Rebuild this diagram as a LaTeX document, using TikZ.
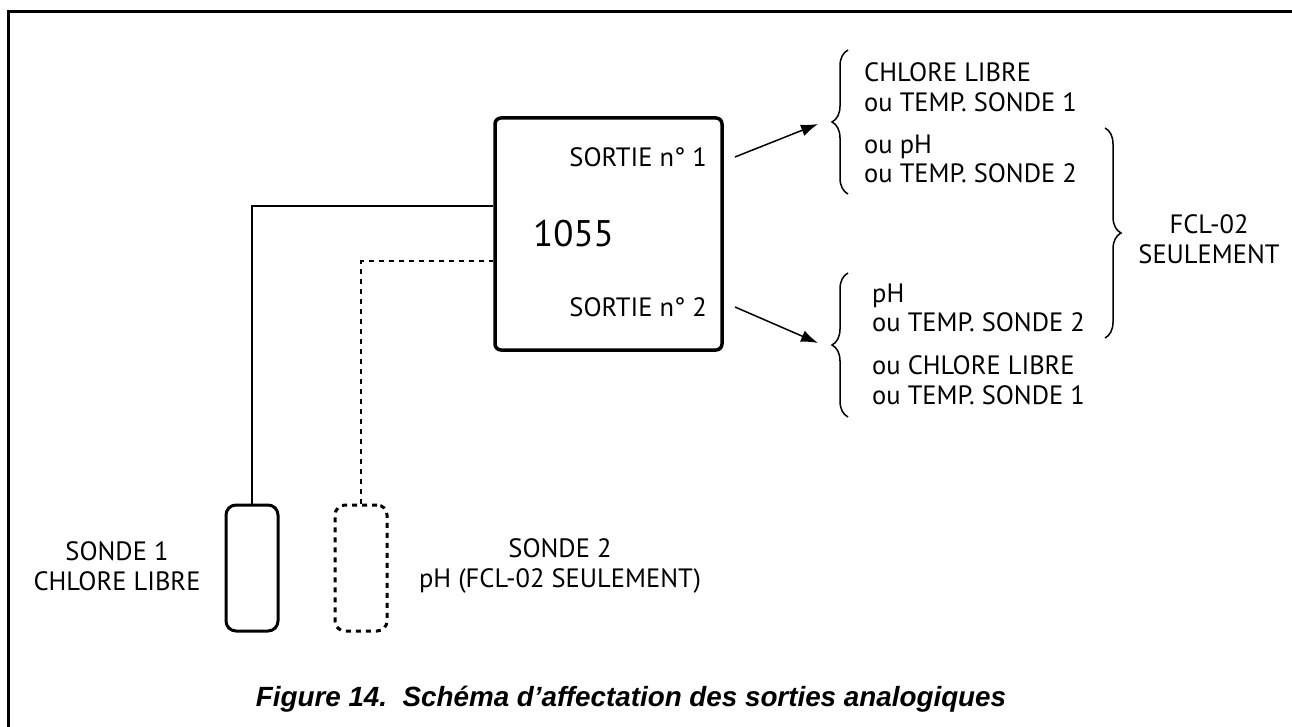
\documentclass[tikz,border=0pt]{standalone}
\usepackage{fontspec}
\setmainfont{PT Sans}
\newfontfamily\capfont{Liberation Sans}
\usetikzlibrary{arrows.meta,positioning,calc,decorations.pathreplacing}

\begin{document}
\begin{tikzpicture}[x=1pt, y=-1pt,
  every node/.style={font=\fontsize{26.5}{29.5}\selectfont, inner sep=0pt},
  unitbox/.style={draw, line width=3.5pt, rounded corners=6pt, minimum width=227pt, minimum height=232pt},
  probe/.style={draw, line width=3pt, rounded corners=10pt, minimum width=52pt, minimum height=126pt},
  wire/.style={line width=1.5pt},
  dots/.style={dash pattern=on 5pt off 5pt},
  outarrow/.style={-{Latex[length=17pt,width=12pt]}, line width=1.5pt},
  curly/.style={decorate, decoration={brace, amplitude=16pt}, line width=1.5pt},
  lbl/.style={align=left, anchor=west}
]
\useasboundingbox (0,0) rectangle (1292,727);
\draw[line width=3pt] (8,745) |- (1300,12);

\node[unitbox] (unit) at (608.5,234) {};
\node[anchor=east] (out1) at (707,157) {SORTIE n° 1};
\node[anchor=east] (out2) at (707,307) {SORTIE n° 2};
\node[anchor=west, font=\fontsize{37}{42}\selectfont] (model) at (533,234) {1055};

\node[probe] (sonde1) at (252,568) {};
\node[probe, dots] (sonde2) at (361,568) {};
\node[align=center] (lbl1) at (117,566) {SONDE 1\\CHLORE LIBRE};
\node[align=center] (lbl2) at (560,566) {SONDE 2\\pH (FCL-02 SEULEMENT)};

\draw[wire] (sonde1.north) |- ([yshift=28pt]unit.west);
\draw[wire, dots] (sonde2.north) |- ([yshift=-27pt]unit.west);

\draw[curly] (848,194) -- (848,50);
\draw[curly] (848,417) -- (848,273);
\draw[curly] (1105,128) -- (1105,338);
\coordinate (tip1) at (818,124);
\coordinate (tip2) at (818,343);

\draw[outarrow] ([xshift=28pt]out1.east) -- (tip1);
\draw[outarrow] ([xshift=28pt]out2.east) -- (tip2);

\node[lbl] (opt1) at (864,87) {CHLORE LIBRE\\ou TEMP. SONDE 1};
\node[lbl] (opt2) at (864,159) {ou pH\\ou TEMP. SONDE 2};
\node[lbl] (opt3) at (872,308) {pH\\ou TEMP. SONDE 2};
\node[lbl] (opt4) at (872,380) {ou CHLORE LIBRE\\ou TEMP. SONDE 1};
\node[align=center] (fcl) at (1209,239) {FCL-02\\SEULEMENT};

\node[font=\capfont\bfseries\itshape\fontsize{27.8}{32}\selectfont] (caption) at (631,699) {Figure 14.\ \ Schéma d’affectation des sorties analogiques};
\end{tikzpicture}
\end{document}
